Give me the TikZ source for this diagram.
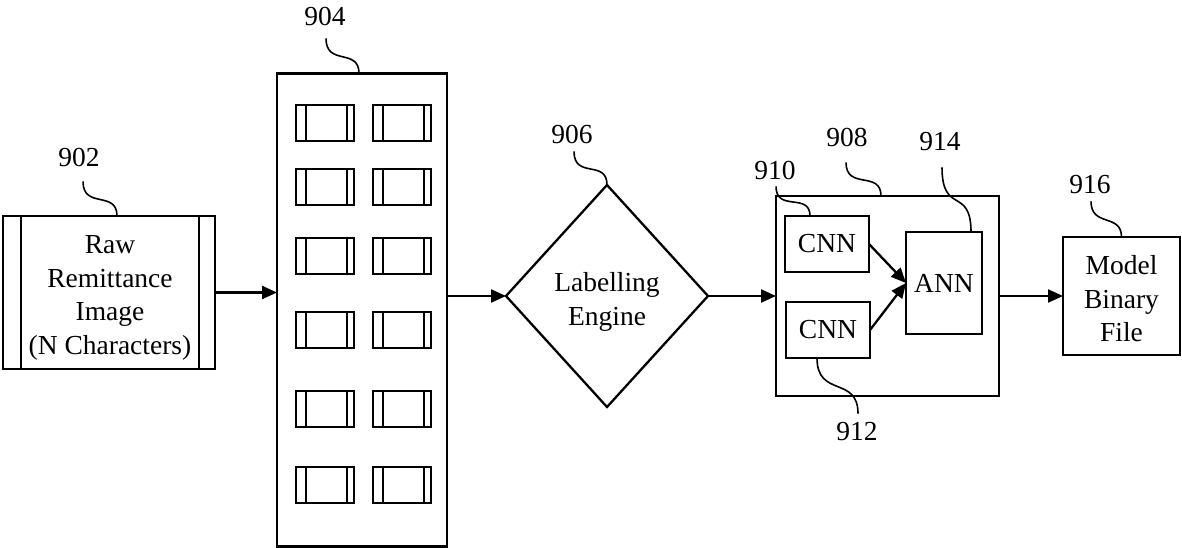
\documentclass[tikz,border=0pt]{standalone}
\usepackage{fontspec}
\setmainfont{Liberation Serif}
\usetikzlibrary{shapes.geometric,arrows.meta,calc}
\begin{document}
\begin{tikzpicture}[x=1pt,y=-1pt,
  font=\fontsize{27.5}{33.5}\selectfont,
  box/.style={draw,line width=2.3pt,inner sep=0pt,outer sep=0pt,align=center},
  txt/.style={inner sep=0pt,align=center},
  cell/.style={draw,line width=2.8pt,minimum width=58pt,minimum height=36pt,inner sep=0pt,outer sep=0pt},
  rib/.style={line width=1.6pt},
  flow/.style={line width=2.3pt,-{Triangle[length=15pt,width=13pt]}},
  leader/.style={line width=1.6pt},
  num/.style={inner sep=0pt}]
\useasboundingbox (0,0) rectangle (1182,548);

% input image block with side bars
\node[box,minimum width=212pt,minimum height=153pt] (raw) at (109,292.5) {};
\node[txt] (rawtext) at (110,298) {Raw\\Remittance\\Image\\(N Characters)};
\draw[rib,line width=2.3pt] ([xshift=18pt]raw.north west) -- ([xshift=18pt]raw.south west);
\draw[rib,line width=2.3pt] ([xshift=-16pt]raw.north east) -- ([xshift=-16pt]raw.south east);

% tall panel of character crops
\node[box,minimum width=170pt,minimum height=473pt] (stack) at (362,310) {};
\foreach \r/\yy in {1/123,2/187,3/256,4/330,5/409,6/485}{
  \foreach \c/\xx in {1/325,2/402}{
    \node[cell] (c\r\c) at (\xx,\yy) {};
    \draw[rib] ([xshift=10pt]c\r\c.north west) -- ([xshift=10pt]c\r\c.south west);
    \draw[rib] ([xshift=-7pt]c\r\c.north east) -- ([xshift=-7pt]c\r\c.south east);
  }}

% labelling engine
\node[box,diamond,minimum width=202pt,minimum height=222pt] (lab) at (607,296) {};
\node[txt] (labtext) at (607,302) {Labelling\\Engine};

% model block with its networks
\node[box,minimum width=223pt,minimum height=200pt] (net) at (887.5,296) {};
\node[box,minimum width=84pt,minimum height=56pt] (cnnA) at (827,244) {CNN};
\node[box,minimum width=84pt,minimum height=56pt] (cnnB) at (828,330) {CNN};
\node[box,minimum width=76pt,minimum height=102pt] (ann) at (944,283) {ANN};

% output file
\node[box,minimum width=117pt,minimum height=118pt] (model) at (1121.5,296) {};
\node[txt] (modeltext) at (1121.5,299) {Model\\Binary\\File};

% flow arrows
\draw[flow] (raw.east) -- (raw.east -| stack.west);
\draw[flow] (lab.west -| stack.east) -- (lab.west);
\draw[flow] (lab.east) -- (lab.east -| net.west);
\draw[flow] (cnnA.east) -- (ann.west);
\draw[flow] (cnnB.east) -- (ann.west);
\draw[flow] (net.east) -- (model.west);

% reference numerals
\node[num] (n902) at (79,157) {902};
\node[num] (n904) at (325,16) {904};
\node[num] (n906) at (572,134) {906};
\node[num] (n908) at (847,137) {908};
\node[num] (n910) at (775,170) {910};
\node[num] (n912) at (857,432) {912};
\node[num] (n914) at (940,142) {914};
\node[num] (n916) at (1090,185) {916};

% leader lines
\draw[leader] ([xshift=4pt,yshift=-15pt]n902.south) .. controls +(0,28) and +(0,-26) .. ([xshift=8pt]raw.north);
\draw[leader] ([xshift=1pt,yshift=-13pt]n904.south) .. controls +(0,28) and +(0,-26) .. ([xshift=-3pt]stack.north);
\draw[leader] ([xshift=2pt,yshift=-8pt]n906.south) .. controls +(0,28) and +(0,-26) .. (lab.north);
\draw[leader] ([xshift=-1pt,yshift=-16pt]n908.south) .. controls +(0,28) and +(0,-26) .. ([xshift=-6.5pt]net.north);
\draw[leader] ([xshift=1pt,yshift=-7pt]n910.south) .. controls +(0,26) and +(0,-24) .. ([xshift=-17pt]cnnA.north);
\draw[leader] ([xshift=2pt,yshift=-16pt]n914.south) .. controls +(0,48) and +(0,-46) .. ([xshift=27pt]ann.north);
\draw[leader] ([xshift=-11pt]cnnB.south) .. controls +(0,40) and +(0,-38) .. ([xshift=1pt,yshift=9pt]n912.north);
\draw[leader] ([xshift=1pt,yshift=-7pt]n916.south) .. controls +(0,26) and +(0,-24) .. (model.north);
\end{tikzpicture}
\end{document}
